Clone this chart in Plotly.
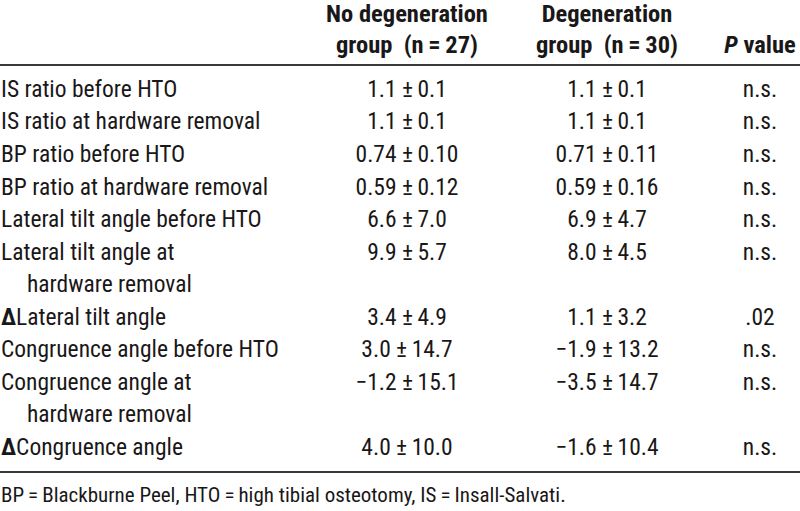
import plotly.graph_objects as go

# ---------------- data ----------------
row_labels = [
    ["IS ratio before HTO"],
    ["IS ratio at hardware removal"],
    ["BP ratio before HTO"],
    ["BP ratio at hardware removal"],
    ["Lateral tilt angle before HTO"],
    ["Lateral tilt angle at", "hardware removal"],
    ["<b>Δ</b>Lateral tilt angle"],
    ["Congruence angle before HTO"],
    ["Congruence angle at", "hardware removal"],
    ["<b>Δ</b>Congruence angle"],
]
decimals = [1, 1, 2, 2, 1, 1, 1, 1, 1, 1]
nodeg_mean = [1.1, 1.1, 0.74, 0.59, 6.6, 9.9, 3.4, 3.0, -1.2, 4.0]
nodeg_sd = [0.1, 0.1, 0.10, 0.12, 7.0, 5.7, 4.9, 14.7, 15.1, 10.0]
deg_mean = [1.1, 1.1, 0.71, 0.59, 6.9, 8.0, 1.1, -1.9, -3.5, -1.6]
deg_sd = [0.1, 0.1, 0.11, 0.16, 4.7, 4.5, 3.2, 13.2, 14.7, 10.4]
p_values = ["n.s.", "n.s.", "n.s.", "n.s.", "n.s.", "n.s.", ".02", "n.s.", "n.s.", "n.s."]
headers = [
    ["<b>No degeneration</b>", "<b>group\u00a0 (n\u2009=\u200927)</b>"],
    ["<b>Degeneration</b>", "<b>group\u00a0 (n\u2009=\u200930)</b>"],
    ["<b><i>P</i> value</b>"],
]
footnote = ("BP\u2009=\u2009Blackburne Peel, HTO\u2009=\u2009high tibial osteotomy, "
            "IS\u2009=\u2009Insall-Salvati.")

# ---------------- style ----------------
FONT = "Roboto Condensed, Liberation Sans Narrow, Arial Narrow, sans-serif"
TXT = "#1a1718"
SIZE = 23.5
HEAD_SIZE = 24.5
FOOT_SIZE = 21
W, H = 800, 511
LABEL_X, INDENT_X = 1, 27
COL_X = [407, 607, 760]
ROW0_PX, PITCH = 91, 32.55          # first body line centre and line pitch (px)
HEADER_LINES = [-2.31, -1.37]       # header line positions in row units
TOP_RULE, BOTTOM_RULE, FOOT_LINE = -0.80, 11.705, 12.47


def fmt(v, d):
    s = f"{abs(v):.{d}f}"
    return ("\u2212" + s) if v < 0 else s


def pm(m, s, d):
    return f"{fmt(m, d)} ±\u2009{fmt(s, d)}"


# line layout (row units)
lab_x, lab_y, lab_t, first_line = [], [], [], []
line = 0
for lines in row_labels:
    first_line.append(line)
    for k, t in enumerate(lines):
        lab_x.append(LABEL_X if k == 0 else INDENT_X)
        lab_y.append(line)
        lab_t.append(t)
        line += 1

fig = go.Figure()
tfont = dict(family=FONT, size=SIZE, color=TXT)
hfont = dict(family=FONT, size=HEAD_SIZE, color=TXT)

fig.add_trace(go.Scatter(x=lab_x, y=lab_y, text=lab_t, mode="text",
                         textposition="middle right", textfont=tfont,
                         hoverinfo="skip"))

cols = [
    [pm(m, s, d) for m, s, d in zip(nodeg_mean, nodeg_sd, decimals)],
    [pm(m, s, d) for m, s, d in zip(deg_mean, deg_sd, decimals)],
    p_values,
]
for cx, texts in zip(COL_X, cols):
    fig.add_trace(go.Scatter(x=[cx] * len(texts), y=first_line, text=texts,
                             mode="text", textposition="middle center",
                             textfont=tfont, hoverinfo="skip"))

for cx, hl in zip(COL_X, headers):
    ys = HEADER_LINES[-len(hl):]
    fig.add_trace(go.Scatter(x=[cx] * len(hl), y=ys, text=hl, mode="text",
                             textposition="middle center", textfont=hfont,
                             hoverinfo="skip"))

fig.add_trace(go.Scatter(x=[LABEL_X], y=[FOOT_LINE], text=[footnote], mode="text",
                         textposition="middle right",
                         textfont=dict(family=FONT, size=FOOT_SIZE, color=TXT),
                         hoverinfo="skip"))

for yr in (TOP_RULE, BOTTOM_RULE):
    fig.add_shape(type="line", xref="paper", x0=0, x1=1, yref="y", y0=yr, y1=yr,
                  line=dict(color="#3a3a3a", width=2))

y_top = -ROW0_PX / PITCH
y_bot = (H - ROW0_PX) / PITCH
fig.update_layout(
    width=W, height=H, margin=dict(l=0, r=0, t=0, b=0),
    paper_bgcolor="white", plot_bgcolor="white", showlegend=False,
    xaxis=dict(range=[0, W], visible=False, fixedrange=True),
    yaxis=dict(range=[y_bot, y_top], visible=False, fixedrange=True),
)
fig.write_html("out.html", config={"displayModeBar": False},
               post_script="document.body.style.margin='0';document.body.style.padding='0';"
                           "document.body.style.overflow='hidden';")
